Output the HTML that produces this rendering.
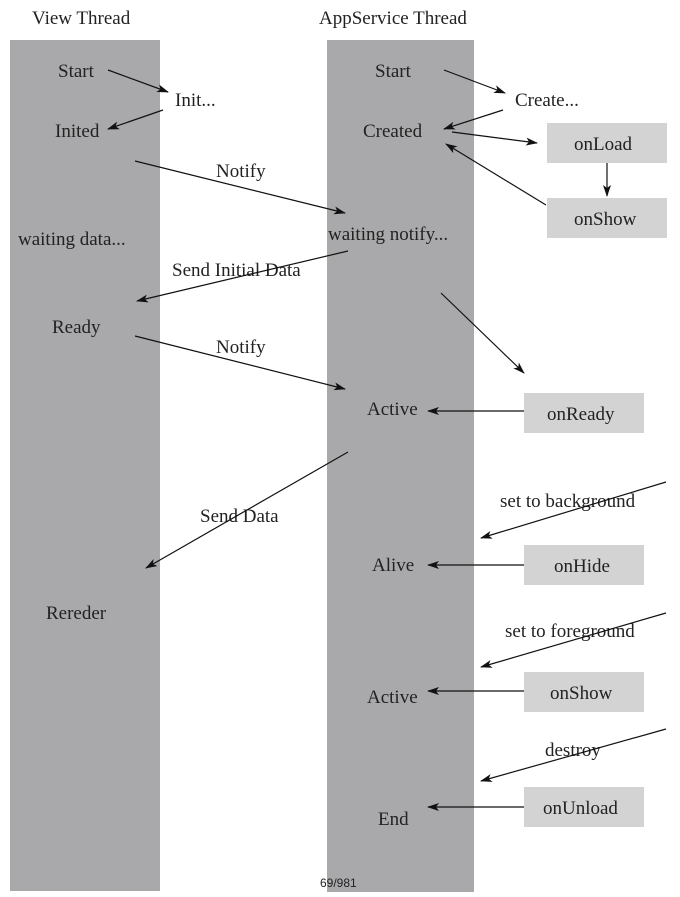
<!DOCTYPE html>
<html><head><style>body{margin:0;background:#fff}svg{display:block}text{font-family:"Liberation Serif",serif;font-size:19px;fill:#222}</style></head>
<body>
<svg width="680" height="897" viewBox="0 0 680 897" xmlns="http://www.w3.org/2000/svg">
<defs><marker id="a" markerWidth="12" markerHeight="8" refX="11" refY="4" orient="auto" markerUnits="userSpaceOnUse"><path d="M0,0 L12,4 L0,8 L3,4 z" fill="#111"/></marker></defs>
<rect x="10" y="40" width="150" height="851" fill="#a9a9ab"/>
<rect x="327" y="40" width="147" height="852" fill="#a9a9ab"/>
<g fill="#d3d3d3">
<rect x="547" y="123" width="120" height="40"/><rect x="547" y="198" width="120" height="40"/>
<rect x="524" y="393" width="120" height="40"/><rect x="524" y="545" width="120" height="40"/>
<rect x="524" y="672" width="120" height="40"/><rect x="524" y="787" width="120" height="40"/>
</g>
<text x="32" y="24">View Thread</text>
<text x="319" y="24">AppService Thread</text>
<text x="58" y="77">Start</text><text x="175" y="106">Init...</text><text x="55" y="137">Inited</text>
<text x="216" y="177">Notify</text><text x="18" y="245">waiting data...</text>
<text x="172" y="276">Send Initial Data</text><text x="52" y="333">Ready</text>
<text x="216" y="353">Notify</text><text x="200" y="522">Send Data</text><text x="46" y="619">Rereder</text>
<text x="375" y="77">Start</text><text x="515" y="106">Create...</text><text x="363" y="137">Created</text>
<text x="328" y="240">waiting notify...</text><text x="367" y="415">Active</text>
<text x="500" y="507">set to background</text><text x="372" y="571">Alive</text>
<text x="505" y="637">set to foreground</text><text x="367" y="703">Active</text>
<text x="545" y="756">destroy</text><text x="378" y="825">End</text>
<text x="574" y="150">onLoad</text><text x="574" y="225">onShow</text><text x="547" y="420">onReady</text>
<text x="554" y="572">onHide</text><text x="550" y="699">onShow</text><text x="543" y="814">onUnload</text>
<text x="320" y="887" style="font-family:'Liberation Sans',sans-serif;font-size:12px">69/981</text>
<g stroke="#111" stroke-width="1.2" marker-end="url(#a)" fill="none">
<line x1="108" y1="70" x2="168" y2="92"/><line x1="163" y1="110" x2="108" y2="129"/>
<line x1="135" y1="161" x2="345" y2="213"/><line x1="348" y1="251" x2="137" y2="301"/>
<line x1="135" y1="336" x2="345" y2="389"/><line x1="348" y1="452" x2="146" y2="568"/>
<line x1="444" y1="70" x2="505" y2="93"/><line x1="503" y1="110" x2="444" y2="129"/>
<line x1="452" y1="132" x2="537" y2="143"/><line x1="607" y1="163" x2="607" y2="196"/>
<line x1="546" y1="205" x2="446" y2="144"/><line x1="441" y1="293" x2="524" y2="373"/>
<line x1="524" y1="411" x2="428" y2="411"/>
<line x1="666" y1="482" x2="481" y2="538"/><line x1="524" y1="565" x2="428" y2="565"/>
<line x1="666" y1="613" x2="481" y2="667"/><line x1="524" y1="691" x2="428" y2="691"/>
<line x1="666" y1="729" x2="481" y2="781"/><line x1="524" y1="807" x2="428" y2="807"/>
</g>
</svg>
</body></html>
